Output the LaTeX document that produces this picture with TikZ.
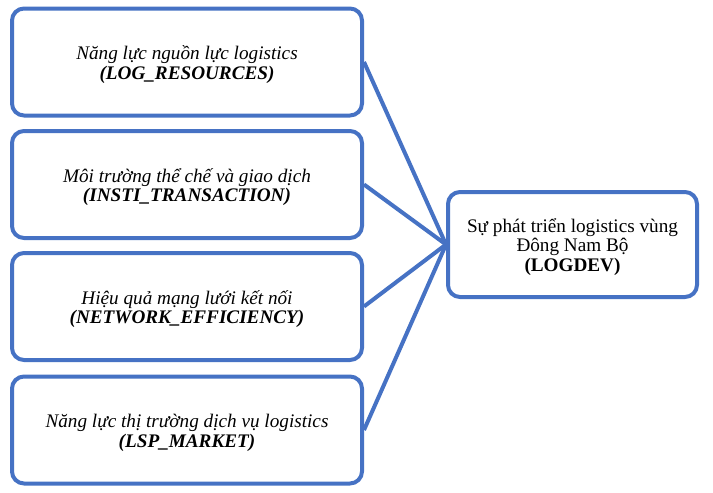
\documentclass[tikz,border=0pt]{standalone}
\usepackage{fontspec}
\setmainfont{Liberation Serif}
\definecolor{boxblue}{RGB}{70,114,196}
\newcommand{\toppad}{\rule{0pt}{19pt}}
\begin{document}
\begin{tikzpicture}[x=1pt,y=-1pt,
  box/.style={draw=boxblue, line width=4pt, rounded corners=12pt, fill=white,
    align=center, inner sep=0pt, font=\fontsize{19.2}{19.5}\selectfont},
  leftbox/.style={box, minimum width=350pt, minimum height=107pt},
  conn/.style={draw=boxblue, line width=4pt}]
\useasboundingbox (0,0) rectangle (713,493);
\fill[white] (0,0) rectangle (713,493);
\node[leftbox] (b1) at (187,62) {\toppad\itshape Năng lực nguồn lực logistics\\\bfseries\itshape (LOG\_RESOURCES)};
\node[leftbox] (b2) at (187,184.5) {\toppad\itshape Môi trường thể chế và giao dịch\\\bfseries\itshape (INSTI\_TRANSACTION)};
\node[leftbox] (b3) at (187,306.5) {\toppad\itshape Hiệu quả mạng lưới kết nối\\\bfseries\itshape (NETWORK\_EFFICIENCY)};
\node[leftbox] (b4) at (187,430) {\toppad\itshape Năng lực thị trường dịch vụ logistics\\\bfseries\itshape (LSP\_MARKET)};
\node[box, minimum width=249pt, minimum height=105pt] (r) at (572.5,244.5) {\toppad Sự phát triển logistics vùng\\Đông Nam Bộ\\\bfseries (LOGDEV)};
\draw[conn] (b1.east) -- (r.west);
\draw[conn] (b2.east) -- (r.west);
\draw[conn] (b3.east) -- (r.west);
\draw[conn] (b4.east) -- (r.west);
\end{tikzpicture}
\end{document}
